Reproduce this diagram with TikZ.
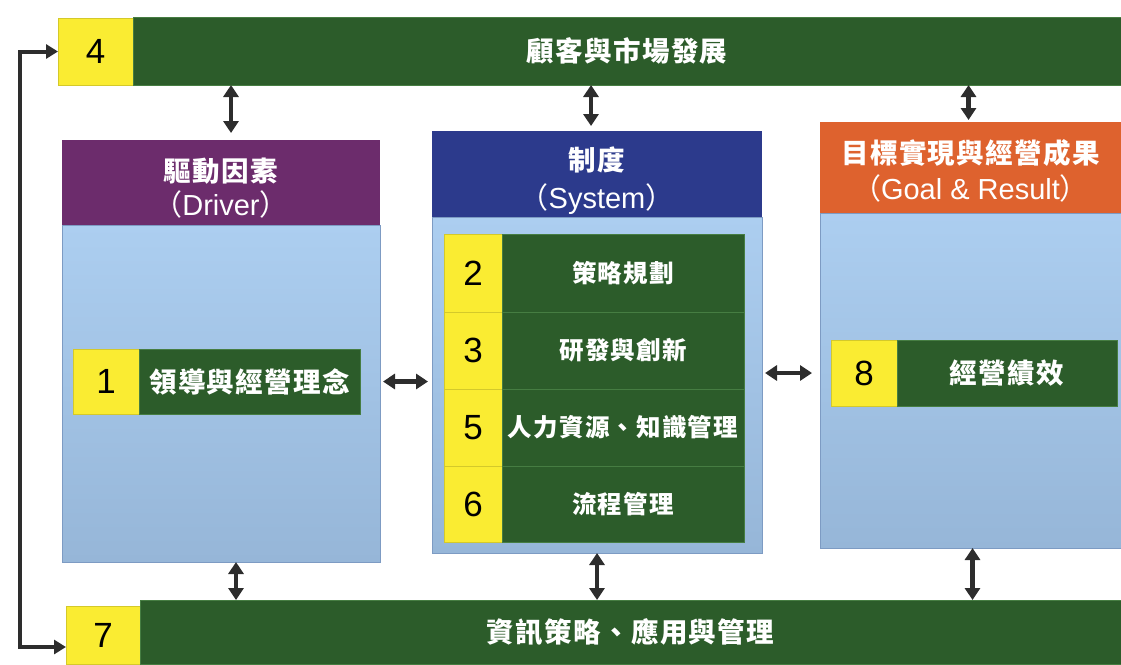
\documentclass[tikz,border=0pt]{standalone}
\usepackage{fontspec}
\setmainfont{Liberation Sans}
\newfontfamily\cjk{Noto Sans CJK TC}[LetterSpace=5]
\newfontfamily\cjkp{Noto Sans CJK TC}
\usetikzlibrary{arrows.meta,calc}
\definecolor{dgreen}{RGB}{44,92,42}
\definecolor{dgreenl}{RGB}{70,125,66}
\definecolor{myyellow}{RGB}{250,236,50}
\definecolor{mypurple}{RGB}{108,44,108}
\definecolor{myblue}{RGB}{44,58,140}
\definecolor{myorange}{RGB}{222,98,46}
\definecolor{ltblueT}{RGB}{172,206,240}
\definecolor{ltblueB}{RGB}{150,182,216}
\definecolor{ltedge}{RGB}{125,155,195}
\definecolor{arrowc}{RGB}{45,45,45}
\newcommand\myzh{\cjk\bfseries\fontsize{27.5}{32}\selectfont}
\newcommand\myzhs{\cjk\bfseries\fontsize{24.5}{28}\selectfont}
\newcommand\mynum{\fontsize{35}{40}\selectfont}
\tikzset{
  boxbase/.style={inner sep=0pt, outer sep=0pt, anchor=north west},
  numbox/.style={boxbase, fill=myyellow, draw=myyellow!85!black, line width=0.6pt, text=black, font=\mynum},
  greenbox/.style={boxbase, fill=dgreen, draw=dgreenl, line width=0.8pt, text=white, font=\myzh},
  headbox/.style={boxbase},
  headtext/.style={inner sep=0pt, text=white, align=center, font=\fontsize{29}{34}\selectfont},
  bodybox/.style={boxbase, top color=ltblueT, bottom color=ltblueB, draw=ltedge, line width=0.8pt},
  dbl/.style={{Triangle[length=12pt,width=15pt]}-{Triangle[length=12pt,width=15pt]}, line width=4.5pt, draw=arrowc},
  loopline/.style={-{Triangle[length=12pt,width=14pt]}, line width=4pt, draw=arrowc},
}
\begin{document}
\begin{tikzpicture}[x=1pt,y=-1pt]
\useasboundingbox (0,0) rectangle (1121,664);
% top bar
\node[numbox, minimum width=75, minimum height=67] (y4) at (58,18) {4};
\node[greenbox, minimum width=988, minimum height=68] (top) at (133,17) {顧客與市場發展};
% bottom bar
\node[numbox, minimum width=74, minimum height=58] (y7) at (66,606) {7};
\node[greenbox, minimum width=981, minimum height=64] (bot) at (140,600) {資訊策略、應用與管理};
% left column
\node[bodybox, minimum width=318, minimum height=337] (lbody) at (62,225) {};
\node[headbox, fill=mypurple, minimum width=318, minimum height=85] (lhead) at (62,140) {};
\node[headtext] (lheadt) at ([yshift=-6pt]lhead.center)
  {{\myzh 驅動因素}\\[0pt]{\cjkp （}Driver{\cjkp ）}};
\node[numbox, minimum width=66, minimum height=65] (y1) at (73,349) {1};
\node[greenbox, minimum width=221, minimum height=65] (g1) at (139,349) {領導與經營理念};
% middle column
\node[bodybox, minimum width=330, minimum height=336] (mbody) at (432,217) {};
\node[headbox, fill=myblue, minimum width=330, minimum height=86] (mhead) at (432,131) {};
\node[headtext] (mheadt) at ([yshift=-7pt]mhead.center)
  {{\myzh 制度}\\[4pt]{\cjkp （}System{\cjkp ）}};
\node[numbox, minimum width=58, minimum height=78] (y2) at (444,234) {2};
\node[greenbox, minimum width=242, minimum height=78, font=\myzhs] (g2) at (502,234) {策略規劃};
\node[numbox, minimum width=58, minimum height=77] (y3) at (444,312) {3};
\node[greenbox, minimum width=242, minimum height=77, font=\myzhs] (g3) at (502,312) {研發與創新};
\node[numbox, minimum width=58, minimum height=77] (y5) at (444,389) {5};
\node[greenbox, minimum width=242, minimum height=77, font=\myzhs] (g5) at (502,389) {人力資源、知識管理};
\node[numbox, minimum width=58, minimum height=76] (y6) at (444,466) {6};
\node[greenbox, minimum width=242, minimum height=76, font=\myzhs] (g6) at (502,466) {流程管理};
% right column
\node[bodybox, minimum width=301, minimum height=335] (rbody) at (820,213) {};
\node[headbox, fill=myorange, minimum width=301, minimum height=91] (rhead) at (820,122) {};
\node[headtext] (rheadt) at ([yshift=-3pt]rhead.center)
  {{\myzh 目標實現與經營成果}\\[2pt]{\cjkp （}Goal \& Result{\cjkp ）}};
\node[numbox, minimum width=66, minimum height=66] (y8) at (831,340) {8};
\node[greenbox, minimum width=220, minimum height=66] (g8) at (897,340) {經營績效};
% vertical double arrows
\draw[dbl, shorten >=7pt] ([xshift=10pt]lhead.north |- top.south) -- ([xshift=10pt]lhead.north);
\draw[dbl, shorten >=5pt] ([xshift=-6pt]mhead.north |- top.south) -- ([xshift=-6pt]mhead.north);
\draw[dbl, shorten >=2pt] ([xshift=-2pt]rhead.north |- top.south) -- ([xshift=-2pt]rhead.north);
\draw[dbl] ([xshift=15pt]lbody.south) -- ([xshift=15pt]lbody.south |- bot.north);
\draw[dbl] (mbody.south) -- (mbody.south |- bot.north);
\draw[dbl] ([xshift=2pt]rbody.south) -- ([xshift=2pt]rbody.south |- bot.north);
% horizontal double arrows
\draw[dbl, shorten <=3pt, shorten >=4pt] (lbody.east |- g1.east) -- (mbody.west |- g1.east);
\draw[dbl, shorten <=3pt, shorten >=8pt] (mbody.east |- g8.west) -- (rbody.west |- g8.west);
% feedback loop
\coordinate (lp) at (20,0);
\coordinate (l7) at ([yshift=-12pt]y7.west);
\draw[loopline, line join=miter] (l7 -| lp) -- (y4.west -| lp) -- (y4.west);
\draw[loopline] (y4.west -| lp) -- (l7 -| lp) -- (l7);
\end{tikzpicture}
\end{document}
